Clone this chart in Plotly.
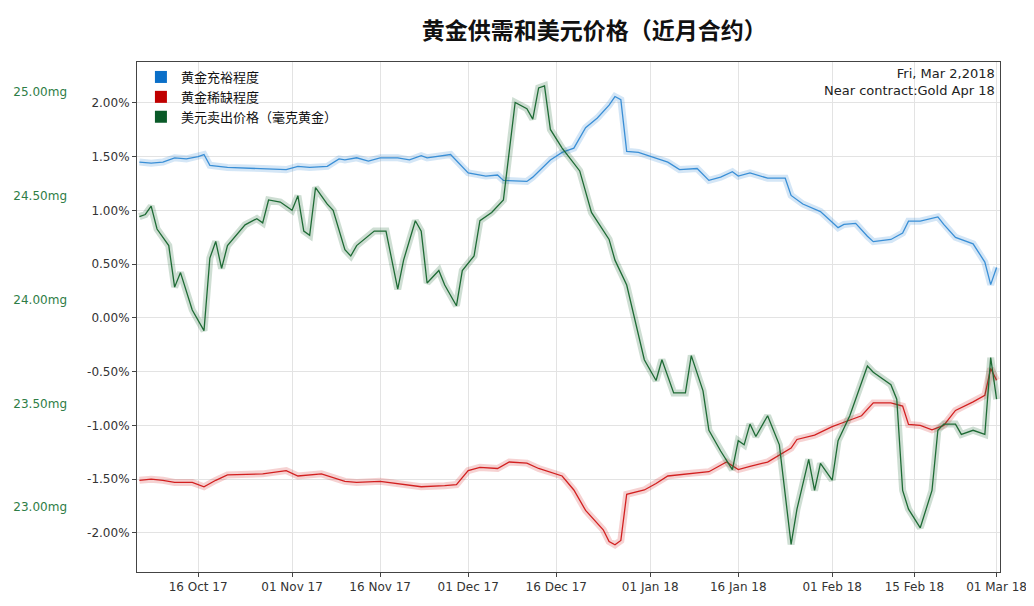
import plotly.graph_objects as go

blue_dates = ["2017-10-06","2017-10-08","2017-10-10","2017-10-12","2017-10-14","2017-10-16","2017-10-17","2017-10-18","2017-10-21","2017-10-27","2017-10-31","2017-11-02","2017-11-04","2017-11-07","2017-11-09","2017-11-10","2017-11-12","2017-11-14","2017-11-16","2017-11-19","2017-11-21","2017-11-23","2017-11-24","2017-11-28","2017-11-30","2017-12-01","2017-12-04","2017-12-06","2017-12-07","2017-12-11","2017-12-12","2017-12-15","2017-12-17","2017-12-19","2017-12-21","2017-12-23","2017-12-25","2017-12-26","2017-12-27","2017-12-28","2017-12-30","2018-01-02","2018-01-04","2018-01-06","2018-01-09","2018-01-11","2018-01-13","2018-01-15","2018-01-16","2018-01-18","2018-01-21","2018-01-24","2018-01-25","2018-01-27","2018-01-30","2018-02-01","2018-02-02","2018-02-03","2018-02-05","2018-02-07","2018-02-08","2018-02-11","2018-02-13","2018-02-14","2018-02-16","2018-02-19","2018-02-20","2018-02-22","2018-02-25","2018-02-27","2018-02-28","2018-03-01"]
blue_vals = [1.45,1.44,1.45,1.49,1.48,1.50,1.52,1.42,1.40,1.39,1.38,1.41,1.40,1.41,1.48,1.47,1.49,1.46,1.49,1.49,1.47,1.51,1.49,1.52,1.40,1.35,1.32,1.33,1.28,1.27,1.31,1.47,1.54,1.58,1.77,1.86,1.98,2.06,2.03,1.55,1.54,1.49,1.45,1.38,1.39,1.28,1.31,1.36,1.32,1.35,1.30,1.30,1.14,1.06,0.99,0.89,0.84,0.87,0.88,0.76,0.71,0.73,0.79,0.90,0.90,0.94,0.87,0.75,0.69,0.52,0.31,0.47]

red_dates = ["2017-10-06","2017-10-08","2017-10-10","2017-10-12","2017-10-15","2017-10-17","2017-10-19","2017-10-21","2017-10-27","2017-10-31","2017-11-02","2017-11-06","2017-11-10","2017-11-12","2017-11-16","2017-11-19","2017-11-23","2017-11-27","2017-11-29","2017-12-01","2017-12-03","2017-12-06","2017-12-08","2017-12-11","2017-12-13","2017-12-17","2017-12-19","2017-12-21","2017-12-24","2017-12-25","2017-12-26","2017-12-27","2017-12-28","2017-12-31","2018-01-02","2018-01-04","2018-01-07","2018-01-11","2018-01-14","2018-01-16","2018-01-18","2018-01-21","2018-01-25","2018-01-26","2018-01-29","2018-02-01","2018-02-03","2018-02-06","2018-02-08","2018-02-11","2018-02-13","2018-02-14","2018-02-16","2018-02-18","2018-02-20","2018-02-22","2018-02-25","2018-02-27","2018-02-28","2018-03-01"]
red_vals = [-1.51,-1.50,-1.51,-1.53,-1.53,-1.57,-1.51,-1.46,-1.45,-1.42,-1.47,-1.45,-1.52,-1.53,-1.52,-1.54,-1.57,-1.56,-1.55,-1.42,-1.39,-1.40,-1.34,-1.35,-1.40,-1.47,-1.60,-1.79,-1.97,-2.08,-2.11,-2.07,-1.64,-1.60,-1.54,-1.47,-1.45,-1.43,-1.34,-1.41,-1.38,-1.34,-1.21,-1.13,-1.09,-1.01,-0.97,-0.91,-0.79,-0.79,-0.82,-0.99,-1.00,-1.04,-1.00,-0.86,-0.78,-0.72,-0.47,-0.58]

green_dates = ["2017-10-06","2017-10-07","2017-10-08","2017-10-09","2017-10-11","2017-10-12","2017-10-13","2017-10-15","2017-10-17","2017-10-18","2017-10-19","2017-10-20","2017-10-21","2017-10-24","2017-10-26","2017-10-27","2017-10-28","2017-10-30","2017-11-01","2017-11-02","2017-11-03","2017-11-04","2017-11-05","2017-11-07","2017-11-08","2017-11-10","2017-11-11","2017-11-12","2017-11-15","2017-11-17","2017-11-19","2017-11-20","2017-11-22","2017-11-23","2017-11-24","2017-11-26","2017-11-27","2017-11-29","2017-11-30","2017-12-02","2017-12-03","2017-12-05","2017-12-07","2017-12-09","2017-12-11","2017-12-12","2017-12-13","2017-12-14","2017-12-15","2017-12-17","2017-12-20","2017-12-22","2017-12-25","2017-12-26","2017-12-28","2017-12-30","2017-12-31","2018-01-02","2018-01-03","2018-01-05","2018-01-07","2018-01-08","2018-01-10","2018-01-11","2018-01-13","2018-01-15","2018-01-16","2018-01-17","2018-01-18","2018-01-19","2018-01-21","2018-01-23","2018-01-25","2018-01-26","2018-01-28","2018-01-29","2018-01-30","2018-02-01","2018-02-02","2018-02-04","2018-02-07","2018-02-08","2018-02-11","2018-02-12","2018-02-13","2018-02-14","2018-02-16","2018-02-18","2018-02-19","2018-02-20","2018-02-22","2018-02-23","2018-02-25","2018-02-27","2018-02-28","2018-03-01"]
green_vals = [24.40,24.41,24.45,24.34,24.26,24.06,24.13,23.95,23.85,24.20,24.28,24.15,24.26,24.36,24.39,24.37,24.48,24.47,24.43,24.50,24.33,24.31,24.54,24.46,24.43,24.24,24.21,24.26,24.33,24.33,24.05,24.19,24.38,24.33,24.08,24.14,24.07,23.97,24.14,24.21,24.38,24.42,24.48,24.95,24.92,24.87,25.02,25.03,24.82,24.73,24.62,24.42,24.29,24.19,24.07,23.83,23.71,23.61,23.71,23.55,23.55,23.73,23.56,23.37,23.27,23.18,23.32,23.30,23.40,23.34,23.44,23.30,22.82,22.99,23.23,23.08,23.21,23.13,23.32,23.44,23.68,23.65,23.59,23.52,23.08,22.99,22.90,23.08,23.37,23.40,23.40,23.35,23.37,23.35,23.72,23.52]

tick_dates = ["2017-10-16","2017-11-01","2017-11-16","2017-12-01","2017-12-16","2018-01-01","2018-01-16","2018-02-01","2018-02-15","2018-03-01"]
tick_labels = ["16 Oct 17","01 Nov 17","16 Nov 17","01 Dec 17","16 Dec 17","01 Jan 18","16 Jan 18","01 Feb 18","15 Feb 18","01 Mar 18"]
pct_ticks = [-2.0,-1.5,-1.0,-0.5,0.0,0.5,1.0,1.5,2.0]
mg_ticks = [23.0,23.5,24.0,24.5,25.0]

fig = go.Figure()
def add(x, y, color, glow, name, axis, lcolor):
    fig.add_trace(go.Scatter(x=x, y=y, mode="lines", line=dict(color=glow, width=7),
                             showlegend=False, hoverinfo="skip", yaxis=axis))
    fig.add_trace(go.Scatter(x=x, y=y, mode="lines", line=dict(color=color, width=1.3),
                             showlegend=False, name=name, yaxis=axis))
    fig.add_trace(go.Scatter(x=[None], y=[None], mode="markers", name=name, yaxis=axis,
                             marker=dict(symbol="square", size=10, color=lcolor)))

add(blue_dates, blue_vals, "#3a8fd6", "rgba(58,143,214,0.22)", "黄金充裕程度", "y", "#0a6fc8")
add(red_dates, red_vals, "#d22020", "rgba(210,32,32,0.2)", "黄金稀缺程度", "y", "#c00000")
add(green_dates, green_vals, "#1e6b35", "rgba(30,107,53,0.22)", "美元卖出价格（毫克黄金）", "y2", "#0a5a28")

font = "DejaVu Sans, Noto Sans CJK SC"
fig.update_layout(
    width=1034, height=606, paper_bgcolor="white", plot_bgcolor="white",
    margin=dict(l=0, r=42, t=54, b=42),
    font=dict(family=font, size=12, color="#222"),
    title=dict(text="<b>黄金供需和美元价格（近月合约）</b>", x=0.567, xanchor="center", y=0.975,
               font=dict(size=23, family="Noto Sans CJK SC", color="#111")),
    showlegend=True,
    legend=dict(x=0.134, y=1.0, xanchor="left", yanchor="top", bgcolor="rgba(255,255,255,0)",
                font=dict(size=13, family="Noto Sans CJK SC", color="#111"), tracegroupgap=0,
                itemwidth=30, itemsizing="constant"),
    xaxis=dict(domain=[0.130, 1.0], type="date", range=["2017-10-05 14:00", "2018-03-01 14:00"],
               tickvals=tick_dates, ticktext=tick_labels, showgrid=True, gridcolor="#e3e3e3",
               showline=True, linecolor="#444", mirror=True, ticks="outside", ticklen=4,
               automargin=False, tickfont=dict(size=12, color="#333")),
    yaxis=dict(range=[-2.363, 2.381], tickvals=pct_ticks, automargin=False,
               ticktext=[f"{v:.2f}%" for v in pct_ticks], showgrid=True, gridcolor="#e3e3e3",
               showline=True, linecolor="#444", mirror=True, zeroline=False, ticks="outside", ticklen=4,
               tickfont=dict(size=12, color="#333")),
    yaxis2=dict(range=[22.687, 25.145], tickvals=mg_ticks, ticktext=[f"{v:.2f}mg" for v in mg_ticks],
                overlaying="y", side="left", anchor="free", position=0.0595, showgrid=False,
                automargin=False, autoshift=False,
                showline=False, zeroline=False, tickfont=dict(size=12, color="#2e7d46")),
    annotations=[dict(text="Fri, Mar 2,2018<br>Near contract:Gold Apr 18", xref="paper", yref="paper",
                      x=0.997, y=0.997, xanchor="right", yanchor="top", align="right", showarrow=False,
                      font=dict(size=13, color="#222"))],
)
fig.write_html("out.html")
